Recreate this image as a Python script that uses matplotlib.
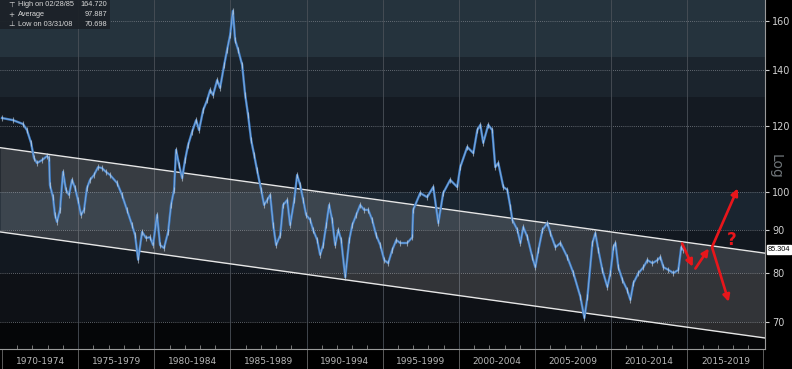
import numpy as np
import matplotlib
matplotlib.use("Agg")
import matplotlib.pyplot as plt
import matplotlib.transforms as mtransforms

# index values (decimal year, level)
years = [1970.0, 1970.72, 1971.38, 1971.64, 1971.91, 1972.10, 1972.30, 1972.63, 1972.96, 1973.09,
         1973.15, 1973.35, 1973.48, 1973.61, 1973.81, 1974.01, 1974.20, 1974.40, 1974.60, 1974.80,
         1974.99, 1975.19, 1975.39, 1975.58, 1975.78, 1976.04, 1976.31, 1976.57, 1976.83, 1977.10,
         1977.56, 1977.88, 1978.21, 1978.54, 1978.74, 1978.94, 1979.20, 1979.46, 1979.72, 1979.92,
         1980.18, 1980.38, 1980.64, 1980.91, 1981.10, 1981.30, 1981.43, 1981.63, 1981.83, 1982.02,
         1982.22, 1982.48, 1982.75, 1982.94, 1983.21, 1983.47, 1983.67, 1983.86, 1984.13, 1984.32,
         1984.59, 1984.78, 1984.98, 1985.16, 1985.31, 1985.51, 1985.77, 1985.97, 1986.16, 1986.36,
         1986.56, 1986.75, 1987.02, 1987.21, 1987.41, 1987.61, 1987.81, 1988.00, 1988.27, 1988.46,
         1988.73, 1988.92, 1989.19, 1989.38, 1989.58, 1989.78, 1989.97, 1990.24, 1990.43, 1990.70,
         1990.89, 1991.09, 1991.29, 1991.48, 1991.68, 1991.88, 1992.08, 1992.27, 1992.54, 1992.80,
         1993.00, 1993.26, 1993.52, 1993.78, 1994.05, 1994.31, 1994.57, 1994.84, 1995.10, 1995.36,
         1995.62, 1995.89, 1996.15, 1996.61, 1996.94, 1997.00, 1997.46, 1997.92, 1998.32, 1998.65,
         1998.97, 1999.43, 1999.89, 2000.09, 2000.55, 2000.95, 2001.21, 2001.41, 2001.60, 2001.93,
         2002.19, 2002.39, 2002.59, 2002.92, 2003.18, 2003.38, 2003.51, 2003.84, 2004.04, 2004.23,
         2004.50, 2004.82, 2005.02, 2005.22, 2005.49, 2005.81, 2006.01, 2006.34, 2006.67, 2007.12,
         2007.52, 2007.98, 2008.24, 2008.44, 2008.77, 2008.96, 2009.16, 2009.42, 2009.75, 2009.95,
         2010.15, 2010.28, 2010.47, 2010.74, 2011.06, 2011.26, 2011.46, 2011.79, 2012.12, 2012.38,
         2012.71, 2013.04, 2013.23, 2013.43, 2013.76, 2014.09, 2014.41, 2014.60, 2014.73]
values = [122.6, 121.9, 120.6, 118.6, 114.5, 109.8, 108.3, 109.2, 110.4, 109.8,
          101.9, 98.6, 93.9, 92.1, 95.2, 105.7, 100.6, 99.2, 103.4, 101.1,
          97.8, 93.9, 95.2, 101.1, 103.4, 104.8, 107.1, 106.8, 105.7, 104.8,
          102.5, 99.2, 95.2, 91.3, 88.8, 83.0, 89.6, 88.1, 88.3, 86.4,
          93.9, 86.4, 85.7, 89.6, 96.5, 100.6, 112.3, 107.7, 103.9, 109.2,
          113.8, 118.0, 121.9, 118.6, 125.3, 128.8, 132.4, 130.6, 136.1, 133.2,
          141.9, 147.9, 154.1, 164.7, 152.0, 147.9, 141.9, 130.6, 123.6, 115.4,
          110.7, 106.2, 100.6, 96.5, 97.8, 99.2, 91.3, 86.4, 88.8, 96.5,
          97.8, 91.3, 97.8, 104.8, 101.9, 97.8, 93.9, 92.6, 90.1, 87.6,
          84.1, 86.4, 91.3, 96.5, 92.6, 86.4, 90.1, 87.6, 79.1, 87.6,
          91.3, 93.9, 96.5, 95.2, 95.2, 92.6, 88.8, 86.4, 82.9, 82.2,
          85.2, 87.6, 86.9, 86.9, 88.3, 95.2, 99.7, 98.6, 101.4, 91.8,
          99.7, 103.4, 101.4, 107.1, 113.2, 111.3, 118.6, 120.3, 114.5, 120.3,
          118.6, 107.1, 108.3, 101.4, 100.6, 96.0, 92.6, 90.1, 86.9, 90.8,
          88.3, 83.6, 81.3, 85.2, 90.1, 91.8, 89.3, 85.9, 86.9, 83.6,
          80.0, 74.9, 70.7, 74.9, 86.9, 89.3, 85.2, 80.7, 77.0, 80.0,
          85.9, 86.9, 81.3, 78.5, 76.3, 74.3, 77.8, 80.0, 81.3, 82.9,
          82.2, 82.9, 83.6, 81.3, 80.7, 80.0, 80.7, 85.9, 85.3]

# trend channel (start/end levels)
chan_years = [1969.87, 2020.1]
chan_upper = [113.0, 84.5]
chan_lower = [89.6, 66.9]

# hand-drawn scenario arrows (from, to)
arrows = [((2014.66, 86.8), (2015.35, 81.4)),
          ((2015.53, 81.0), (2016.41, 85.6)),
          ((2016.63, 86.0), (2018.31, 101.0)),
          ((2016.63, 85.8), (2017.72, 73.9))]

last_value = 85.304
y_ticks = [70, 80, 90, 100, 120, 140, 160]
periods = ["1970-1974", "1975-1979", "1980-1984", "1985-1989", "1990-1994",
           "1995-1999", "2000-2004", "2005-2009", "2010-2014", "2015-2019"]

fig = plt.figure(figsize=(7.92, 3.69), dpi=100, facecolor="black")
ax = fig.add_axes([0.0, 0.0542, 0.9659, 0.9458])
ax.set_yscale("log")
ax.set_xlim(1969.87, 2020.1)
ax.set_ylim(64.9, 169.7)
ax.set_facecolor("#050608")

# background bands
bands = [(145, 175, "#25333d"), (130, 145, "#1b242d"), (100, 130, "#141a22"),
         (90, 100, "#1a2530"), (80, 90, "#121820"), (70, 80, "#0e1116")]
for lo, hi, c in bands:
    ax.axhspan(lo, hi, color=c, lw=0, zorder=0)

# grid
for t in y_ticks:
    ax.axhline(t, color="#7a8088", lw=0.6, ls=(0, (1, 1.5)), zorder=1)
for yr in range(1975, 2020, 5):
    ax.axvline(yr, color="#4a5058", lw=0.6, zorder=1)

# channel
cx = np.linspace(chan_years[0], chan_years[1], 50)
up = np.exp(np.interp(cx, chan_years, np.log(chan_upper)))
lo_ = np.exp(np.interp(cx, chan_years, np.log(chan_lower)))
ax.fill_between(cx, lo_, up, color="#d8d8d8", alpha=0.18, lw=0, zorder=2)
ax.plot(cx, up, color="#e6e6e6", lw=1.0, zorder=3)
ax.plot(cx, lo_, color="#e6e6e6", lw=1.0, zorder=3)

# series (bar-chart look: blue line + light ticks)
ax.plot(years, values, color="#3f80cc", lw=1.7, zorder=4)
ax.plot(years, values, color="#c8d4e0", lw=0.5, alpha=0.6, zorder=5,
        marker="|", ms=5, mew=0.8)

# arrows
for (x0, y0), (x1, y1) in arrows:
    ax.annotate("", xy=(x1, y1), xytext=(x0, y0),
                arrowprops=dict(arrowstyle="-|>", color="#e8161b", lw=1.9,
                                mutation_scale=10, shrinkA=0, shrinkB=0), zorder=6)
ax.text(2017.94, 87.6, "?", color="#e8161b", fontsize=12, fontweight="bold",
        ha="center", va="center", zorder=6)

# axes styling
for s in ["top", "left"]:
    ax.spines[s].set_visible(False)
ax.spines["right"].set_color("#9a9a9a")
ax.spines["bottom"].set_color("#9a9a9a")
ax.yaxis.tick_right()
ax.set_yticks(y_ticks)
ax.set_yticklabels([str(t) for t in y_ticks])
ax.yaxis.set_minor_locator(matplotlib.ticker.NullLocator())
ax.tick_params(axis="y", colors="#cfcfcf", labelsize=7, length=3, pad=2)

ax.set_xticks(range(1970, 2021, 5))
ax.set_xticklabels([])
ax.set_xticks(range(1970, 2021), minor=True)
ax.tick_params(axis="x", which="major", direction="out", length=20, color="#6a6a6a", width=0.6)
ax.tick_params(axis="x", which="minor", direction="in", length=3, color="#8a8a8a", width=0.6)
trans = mtransforms.blended_transform_factory(ax.transData, ax.transAxes)
for i, p in enumerate(periods):
    ax.text(1972.5 + 5 * i, -0.035, p, transform=trans, ha="center", va="center",
            color="#b8b8b8", fontsize=6.5, family="DejaVu Sans")

fig.text(0.979, 0.55, "Log", rotation=-90, color="#6e7478", fontsize=10,
         ha="center", va="center")

# last price tag
ax.annotate(f"{last_value:.3f}", xy=(1.0, last_value), xycoords=("axes fraction", "data"),
            xytext=(2, 0), textcoords="offset points", ha="left", va="center",
            fontsize=5.3, color="black", annotation_clip=False,
            family="Liberation Sans",
            bbox=dict(boxstyle="square,pad=0.15", fc="white", ec="white"))

# stats box
box = matplotlib.patches.Rectangle((0, 0.918), 0.144, 0.082, transform=ax.transAxes,
                                   fc="#1c2228", ec="none", alpha=0.95, zorder=7)
ax.add_patch(box)
rows = [("\u22a4", "High on 02/28/85", "164.720"),
        ("+", "Average", "97.887"),
        ("\u22a5", "Low on 03/31/08", "70.698")]
for i, (ic, lab, val) in enumerate(rows):
    yy = 0.986 - i * 0.028
    ax.text(0.011, yy, ic, transform=ax.transAxes, color="#d8d8d8", fontsize=5.3,
            ha="left", va="center", zorder=8)
    ax.text(0.024, yy, lab, transform=ax.transAxes, color="#d8d8d8", fontsize=5.3,
            ha="left", va="center", zorder=8, family="Liberation Sans")
    ax.text(0.140, yy, val, transform=ax.transAxes, color="#d8d8d8", fontsize=5.3,
            ha="right", va="center", zorder=8, family="Liberation Sans")

fig.savefig("out.png", dpi=100, facecolor="black")
